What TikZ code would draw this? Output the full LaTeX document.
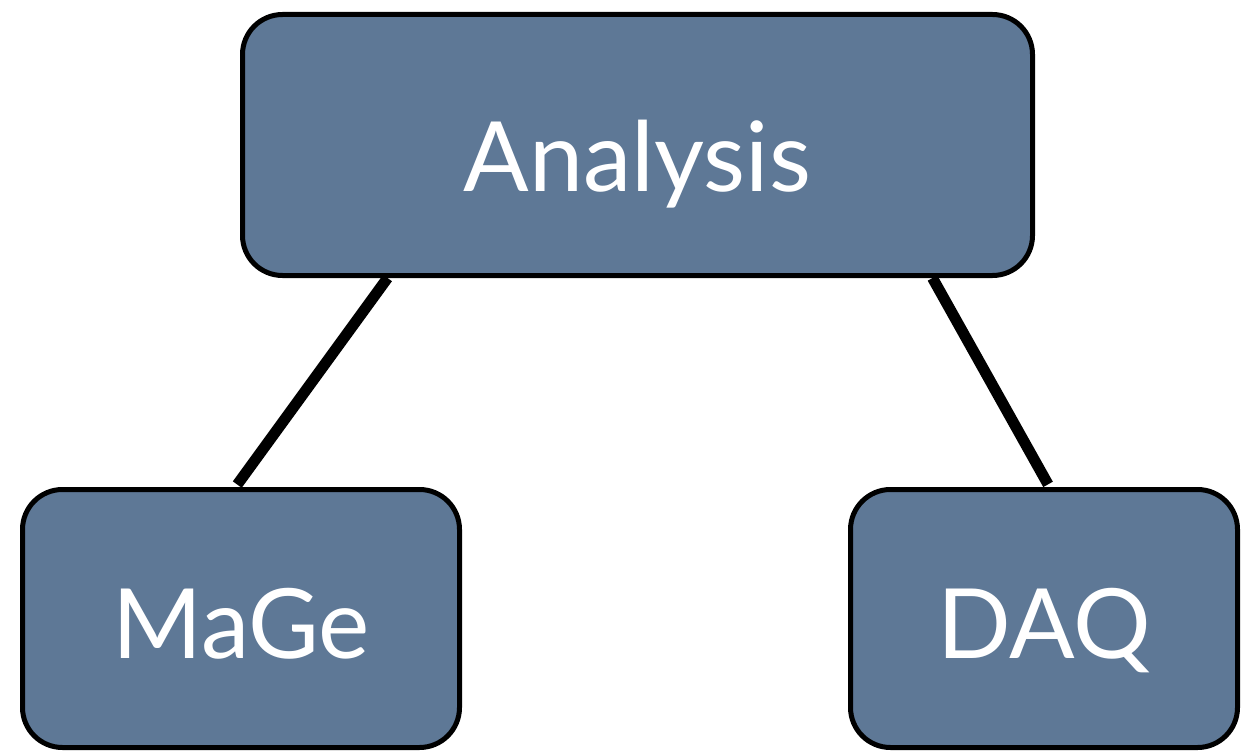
\documentclass[tikz,border=0pt]{standalone}
\usepackage{fontspec}
\setmainfont{Lato}
\usepackage{xcolor}
\usepackage{tikz}
\usetikzlibrary{positioning}

\definecolor{slate}{HTML}{5E7896}

\begin{document}
\begin{tikzpicture}[x=1pt,y=-1pt]
		% Define styles for the blocks and links
		\tikzstyle{block} = [rectangle, rounded corners=40pt, draw=black, fill=slate, line width=5pt, text=white, font=\fontsize{97}{104}\selectfont, inner sep=0pt, text height=79pt, text depth=0pt]
		\tikzstyle{link} = [line width=11pt, shorten >=3pt]

		\useasboundingbox (0,0) rectangle (1241,754);

		% Define the nodes (blocks)
		\node (analysis) [block, minimum width=790pt, minimum height=261pt, text height=94pt] at (637.5,145) {Analysis};
		\node (mage) [block, minimum width=437pt, minimum height=258pt] at (241,618.5) {MaGe};
		\node (daq) [block, minimum width=387pt, minimum height=258pt] at (1044,618.5) {DAQ};

		% Draw links between the blocks
		\draw [link] ([xshift=147.5pt]analysis.south west) -- ([xshift=215.5pt]mage.north west);
		\draw [link] ([xshift=-102.5pt]analysis.south east) -- ([xshift=201.5pt]daq.north west);
	\end{tikzpicture}
\end{document}
